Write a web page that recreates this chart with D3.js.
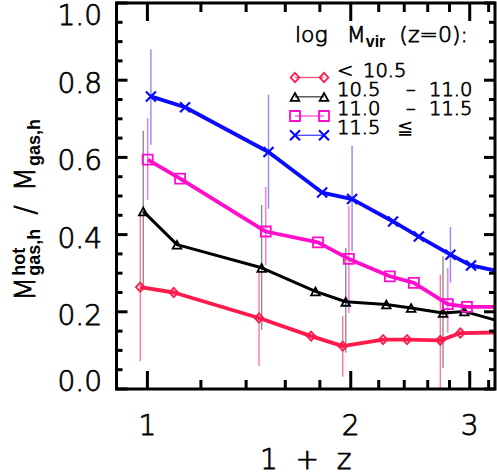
<!DOCTYPE html>
<html><head><meta charset="utf-8">
<script src="https://cdn.jsdelivr.net/npm/d3@7"></script>
<style>
html,body{margin:0;padding:0;background:#fff;}
svg{display:block;}
text{font-family:"DejaVu Sans",sans-serif;font-weight:200;stroke:#000;stroke-width:0.75px;}
</style></head><body>
<svg id="c" width="497" height="475"></svg>
<script>
// ---- data ----
const seriesLabels = ["< 10.5", "10.5 – 11.0", "11.0 – 11.5", "11.5 ≦"];
const xTickValues = [1, 2, 3];
const xTickLabels = ["1", "2", "3"];
const xMinorValues = [1.2, 1.4, 1.6, 1.8, 2.2, 2.4, 2.6, 2.8, 3.2];
const yTickValues = [0, 0.2, 0.4, 0.6, 0.8, 1.0];
const yTickLabels = ["0.0", "0.2", "0.4", "0.6", "0.8", "1.0"];

const redX  = [0.976, 1.094, 1.463, 1.747, 1.946, 2.233, 2.423, 2.714, 2.906, 3.45];
const redY  = [0.264, 0.250, 0.184, 0.137, 0.111, 0.128, 0.128, 0.126, 0.145, 0.147];
const redLo = [0.072, null, 0.059, null, 0.032, null, null, -0.05, null, null];
const redHi = [0.457, null, 0.314, null, 0.190, null, null, 0.296, null, null];

const blackX  = [0.986, 1.106, 1.476, 1.773, 1.966, 2.258, 2.457, 2.739, 2.945, 3.47];
const blackY  = [0.460, 0.374, 0.314, 0.253, 0.226, 0.219, 0.210, 0.197, 0.201, 0.166];
const blackLo = [0.265, null, 0.153, null, 0.094, null, null, 0.054, null, null];
const blackHi = [0.669, null, 0.477, null, 0.365, null, null, 0.344, null, null];

const pinkX  = [1.001, 1.118, 1.497, 1.789, 1.987, 2.285, 2.480, 2.784, 2.972, 3.50];
const pinkY  = [0.594, 0.545, 0.408, 0.380, 0.337, 0.292, 0.275, 0.220, 0.213, 0.213];
const pinkLo = [0.490, null, 0.320, null, 0.197, null, null, 0.146, null, null];
const pinkHi = [0.702, null, 0.524, null, 0.475, null, null, 0.314, null, null];

const blueX  = [1.012, 1.137, 1.511, 1.814, 2.009, 2.310, 2.522, 2.809, 3.013, 3.52];
const blueY  = [0.758, 0.730, 0.614, 0.509, 0.492, 0.434, 0.395, 0.348, 0.320, 0.295];
const blueLo = [0.633, null, 0.467, null, 0.357, null, null, 0.276, null, null];
const blueHi = [0.880, null, 0.762, null, 0.630, null, null, 0.420, null, null];

const seriesStyle = [
  {xs: redX,   ys: redY,   lo: redLo,   hi: redHi,   col: "#ff1a4d", err: "#ff7a98", lw: 3.8, mk: "diamond"},
  {xs: blackX, ys: blackY, lo: blackLo, hi: blackHi, col: "#000000", err: "#8c8c8c", lw: 3.0, mk: "triangle"},
  {xs: pinkX,  ys: pinkY,  lo: pinkLo,  hi: pinkHi,  col: "#ff0ccc", err: "#ff70e0", lw: 3.8, mk: "square"},
  {xs: blueX,  ys: blueY,  lo: blueLo,  hi: blueHi,  col: "#0a0aff", err: "#8a8aff", lw: 3.8, mk: "cross"}
];

// ---- layout ----
const L = 116.5, R = 495, T = 3, B = 389;
const x = d3.scaleLog().domain([0.9, 3.27]).range([L, R]);
const y = d3.scaleLinear().domain([0, 1]).range([B, T]);
const svg = d3.select("#c");

svg.append("defs").append("clipPath").attr("id", "clip")
  .append("rect").attr("x", L).attr("y", T).attr("width", R - L).attr("height", B - T);

function markerPath(type) {
  if (type === "diamond") return "M0,-4.6L4.3,0L0,4.6L-4.3,0Z";
  if (type === "triangle") return "M0,-3.8L4.3,4L-4.3,4Z";
  if (type === "square") return "M-5,-5H5V5H-5Z";
  return "M-5,-5L5,5M-5,5L5,-5";
}

const plot = svg.append("g").attr("clip-path", "url(#clip)");

// error bars
seriesStyle.forEach(s => {
  s.xs.forEach((xv, i) => {
    if (s.lo[i] === null) return;
    plot.append("line")
      .attr("x1", x(xv)).attr("x2", x(xv))
      .attr("y1", y(s.lo[i])).attr("y2", y(s.hi[i]))
      .attr("stroke", s.err).attr("stroke-width", 1.4);
  });
});

// lines and markers
seriesStyle.forEach(s => {
  const pts = s.xs.map((xv, i) => [xv, s.ys[i]]);
  plot.append("path")
    .attr("d", d3.line().x(d => x(d[0])).y(d => y(d[1]))(pts))
    .attr("fill", "none").attr("stroke", s.col).attr("stroke-width", s.lw)
    .attr("stroke-linejoin", "round");
  plot.selectAll(null).data(pts).enter().append("path")
    .attr("transform", d => `translate(${x(d[0])},${y(d[1])})`)
    .attr("d", markerPath(s.mk))
    .attr("fill", "none").attr("stroke", s.col)
    .attr("stroke-width", s.mk === "cross" ? 2.2 : 1.8);
});

// frame
svg.append("rect").attr("x", L).attr("y", T).attr("width", R - L).attr("height", B - T)
  .attr("fill", "none").attr("stroke", "#000").attr("stroke-width", 3);

// ticks
const tk = svg.append("g").attr("stroke", "#000").attr("stroke-width", 3);
xTickValues.forEach(v => {
  tk.append("line").attr("x1", x(v)).attr("x2", x(v)).attr("y1", B).attr("y2", B - 18);
  tk.append("line").attr("x1", x(v)).attr("x2", x(v)).attr("y1", T).attr("y2", T + 18);
});
xMinorValues.forEach(v => {
  tk.append("line").attr("x1", x(v)).attr("x2", x(v)).attr("y1", B).attr("y2", B - 9);
  tk.append("line").attr("x1", x(v)).attr("x2", x(v)).attr("y1", T).attr("y2", T + 9);
});
d3.range(0, 1.0001, 0.05).forEach(v => {
  const major = Math.abs(v * 5 - Math.round(v * 5)) < 1e-6;
  const len = major ? 11 : 6;
  tk.append("line").attr("x1", L).attr("x2", L + len).attr("y1", y(v)).attr("y2", y(v));
  tk.append("line").attr("x1", R).attr("x2", R - len).attr("y1", y(v)).attr("y2", y(v));
});

// tick labels
yTickValues.forEach((v, i) => {
  const cy = Math.max(T + 12, Math.min(B - 8, y(v) + 3));
  svg.append("text").attr("x", 102).attr("y", cy + 10)
    .attr("text-anchor", "end").attr("font-size", 28).text(yTickLabels[i]);
});
xTickValues.forEach((v, i) => {
  svg.append("text").attr("x", x(v)).attr("y", 435)
    .attr("text-anchor", "middle").attr("font-size", 28).text(xTickLabels[i]);
});

// x title
svg.append("text").attr("x", (L + R) / 2).attr("y", 469)
  .attr("text-anchor", "middle").attr("font-size", 28).style("white-space", "pre")
  .text("1  +  z");

// rich text helper: groups placed sequentially; items in a group share x
function rich(g, groups) {
  let cx = 0;
  groups.forEach(grp => {
    let w = 0;
    cx += grp.gap || 0;
    grp.items.forEach(p => {
      const t = g.append("text").attr("x", cx).attr("y", p.shift || 0)
        .attr("font-size", p.size).style("white-space", "pre");
      if (p.bold) t.style("font-family", "'Liberation Sans', sans-serif")
        .style("font-weight", "bold").style("stroke-width", "0px");
      t.text(p.t);
      w = Math.max(w, t.node().getComputedTextLength());
    });
    cx += w;
  });
  return cx;
}

// y title
const yt = svg.append("g");
const ytLen = rich(yt, [
  {items: [{t: "M", size: 28}]},
  {gap: 1, items: [{t: "hot", size: 18, bold: true, shift: -10}, {t: "gas,h", size: 18, bold: true, shift: 4.5}]},
  {gap: 14, items: [{t: "/", size: 28}]},
  {gap: 14, items: [{t: "M", size: 28}]},
  {gap: 1, items: [{t: "gas,h", size: 18, bold: true, shift: 4.5}]}
]);
yt.attr("transform", `translate(35,${210 + ytLen / 2}) rotate(-90)`);

// legend title
const lg = svg.append("g").attr("transform", "translate(295,41.5)");
rich(lg, [
  {items: [{t: "log", size: 22}]},
  {gap: 19, items: [{t: "M", size: 22}]},
  {gap: 0, items: [{t: "vir", size: 16, bold: true, shift: 5.5}]},
  {gap: 14, items: [{t: "(z=0):", size: 22}]}
]);

// legend entries
const rowBase = [76.5, 95.8, 115, 134.3];
const legParts = [
  [["<", 337], ["10.5", 363]],
  [["10.5", 337], ["–", 406], ["11.0", 429]],
  [["11.0", 337], ["–", 406], ["11.5", 429]],
  [["11.5", 337], ["≦", 397]]
];
seriesStyle.forEach((s, i) => {
  const yy = rowBase[i] + 1;
  svg.append("line").attr("x1", 295).attr("x2", 324).attr("y1", yy).attr("y2", yy)
    .attr("stroke", s.col).attr("stroke-width", 1.3).attr("stroke-opacity", 0.75);
  [295, 324].forEach(px => {
    svg.append("path").attr("transform", `translate(${px},${yy})`)
      .attr("d", markerPath(s.mk)).attr("fill", "none").attr("stroke", s.col)
      .attr("stroke-width", s.mk === "cross" ? 2.2 : 1.8);
  });
  legParts[i].forEach(([t, px]) => {
    const tt = svg.append("text").attr("x", px).attr("y", rowBase[i]).attr("font-size", 19.5).text(t);
    if (t === "≦") tt.style("stroke-width", "0px").style("font-weight", "normal");
  });
});
svg.attr("data-series", seriesLabels.join("|"));
</script>
</body></html>
